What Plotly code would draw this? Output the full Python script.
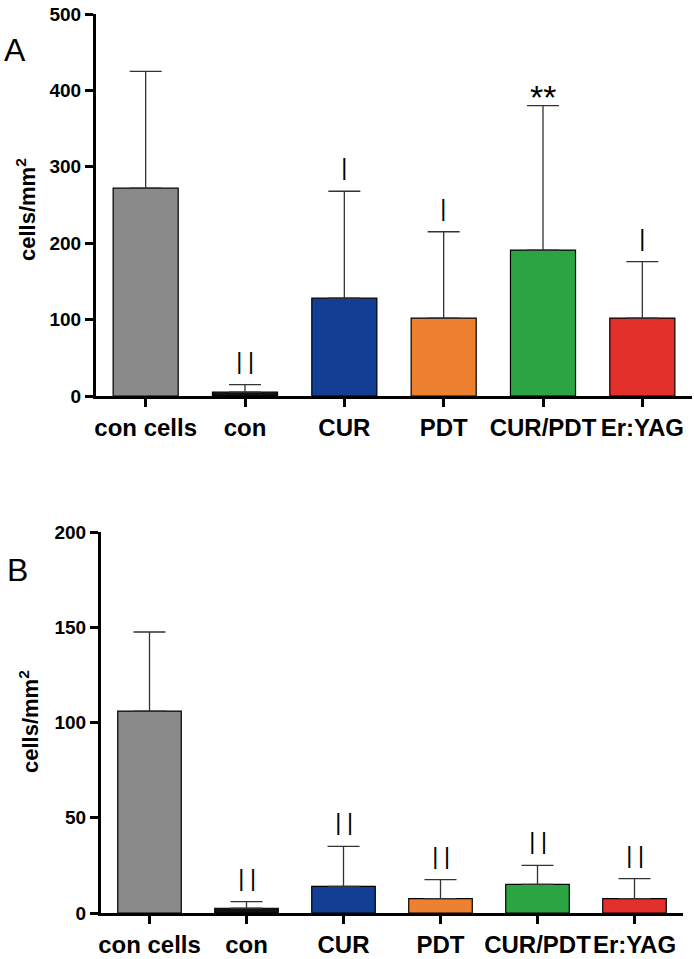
import plotly.graph_objects as go

categories = ["con cells", "con", "CUR", "PDT", "CUR/PDT", "Er:YAG"]
colors = ["#8a8a8a", "#111111", "#123f94", "#ee8130", "#2aa541", "#e3302b"]

# Panel A
a_values = [272, 5, 128, 102, 191, 102]
a_err_top = [425, 15, 268, 215, 380, 176]
a_marks = ["", "I\u200aI", "I", "I", "**", "I"]

# Panel B
b_values = [106, 2.5, 14, 7.5, 15, 7.5]
b_err_top = [147.5, 6, 35, 17.5, 25, 18]
b_marks = ["", "I\u200aI", "I\u200aI", "I\u200aI", "I\u200aI", "I\u200aI"]

W, H = 694, 959
font_bold = "Liberation Sans, Arial"
regular = "Liberation Sans, Arial"
light = "Roboto, Liberation Sans, Arial"

fig = go.Figure()

def add_panel(values, err_top, xa, ya):
    fig.add_trace(go.Bar(
        x=categories, y=values,
        marker=dict(color=colors, line=dict(color="black", width=1.2)),
        width=0.655,
        error_y=dict(type="data", symmetric=False,
                     array=[e - v for e, v in zip(err_top, values)],
                     arrayminus=[0] * len(values),
                     color="#333333", thickness=1.3, width=16),
        xaxis=xa, yaxis=ya, showlegend=False,
    ))

add_panel(a_values, a_err_top, "x", "y")
add_panel(b_values, b_err_top, "x2", "y2")

axis_common_x = dict(type="category", range=[-0.5, 5.5], showline=True, linecolor="black",
                     linewidth=3, ticks="outside", ticklen=8, tickwidth=2.5, tickcolor="black",
                     showgrid=False, zeroline=False, automargin=False, tickangle=0,
                     tickfont=dict(family=font_bold, size=24, color="black", weight="bold"))
axis_common_y = dict(showline=True, linecolor="black", linewidth=3, ticks="outside",
                     ticklen=8, tickwidth=2.5, tickcolor="black", showgrid=False, zeroline=False,
                     automargin=False,
                     tickfont=dict(family=font_bold, size=19, color="black", weight="bold"))

fig.update_layout(
    template="none",
    width=W, height=H, autosize=False,
    margin=dict(l=0, r=0, t=0, b=0, pad=0),
    paper_bgcolor="white", plot_bgcolor="white",
    xaxis=dict(domain=[96 / W, 692 / W], anchor="y", **axis_common_x),
    yaxis=dict(domain=[1 - 396 / H, 1 - 14 / H], anchor="x", range=[0, 500], dtick=100, **axis_common_y),
    xaxis2=dict(domain=[101 / W, 683 / W], anchor="y2", **axis_common_x),
    yaxis2=dict(domain=[1 - 913 / H, 1 - 532 / H], anchor="x2", range=[0, 200], dtick=50, **axis_common_y),
)

annotations = []
for marks, err_top, xr, yr in [(a_marks, a_err_top, "x", "y"), (b_marks, b_err_top, "x2", "y2")]:
    for cat, m, e in zip(categories, marks, err_top):
        if not m:
            continue
        if m == "**":
            font = dict(family=regular, size=34, color="black")
            shift = -12
        else:
            font = dict(family=light, size=32, color="black", weight=300)
            shift = 1
        annotations.append(dict(
            x=cat, y=e, xref=xr, yref=yr, text=m, showarrow=False,
            xanchor="center", yanchor="bottom", yshift=shift, font=font,
        ))

# y titles
for yc, xc in [(210, 26), (722, 29)]:
    annotations.append(dict(x=xc / W, y=1 - yc / H, xref="paper", yref="paper",
                            xanchor="center", yanchor="middle",
                            text="cells/mm<sup>2</sup>", textangle=-90, showarrow=False,
                            font=dict(family=font_bold, size=22, color="black", weight="bold")))
# panel letters
for letter, xc, yc in [("A", 15, 50), ("B", 17, 570)]:
    annotations.append(dict(x=xc / W, y=1 - yc / H, xref="paper", yref="paper", text=letter,
                            xanchor="center", yanchor="middle",
                            showarrow=False, font=dict(family=regular, size=32, color="black")))

fig.update_layout(annotations=annotations)
fig.write_html("out.html", config={"displayModeBar": False},
               post_script="document.body.style.margin='0px';document.body.style.overflow='hidden';")
